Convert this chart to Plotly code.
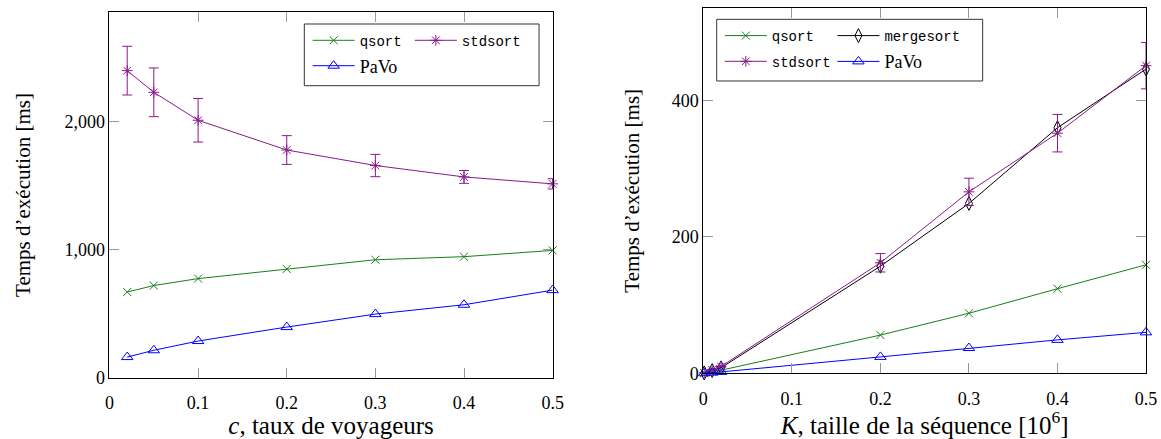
import plotly.graph_objects as go

# --- gauche : temps en fonction du taux de voyageurs c
c_vals = [0.02, 0.05, 0.1, 0.2, 0.3, 0.4, 0.5]
qsort_c = [668, 719, 773, 848, 920, 944, 993]
stdsort_c = [2395, 2226, 2008, 1776, 1655, 1566, 1512]
stdsort_c_err = [190, 190, 170, 112, 87, 50, 40]
pavo_c = [161, 214, 286, 395, 496, 569, 683]

# --- droite : temps en fonction de la taille K de la sequence
k_vals = [0.001, 0.01, 0.02, 0.2, 0.3, 0.4, 0.5]
qsort_k = [0.3, 2.5, 4.5, 56, 88, 124, 159]
mergesort_k = [0.5, 4, 8, 157, 249, 360, 446]
stdsort_k = [0.6, 5, 10, 162, 266, 352, 451]
stdsort_k_err = [0.1, 0.5, 1, 13.5, 20, 27.5, 34]
pavo_k = [0.1, 1, 2, 24, 37, 49, 60]

GREEN = "#1a7f1a"
PURPLE = "#8a1a8a"
BLUE = "#0000ff"
BLACK = "#000000"
SERIF = "Liberation Serif"
MONO = "Liberation Mono"

fig = go.Figure()


def add(x, y, name, color, symbol, size, xa, ya, leg, err=None):
    fig.add_trace(go.Scatter(
        x=x, y=y, name=name, mode="lines+markers", xaxis=xa, yaxis=ya,
        line=dict(color=color, width=1),
        marker=dict(symbol=symbol, size=size, color=color,
                    line=dict(color=color, width=1)),
        error_y=None if err is None else dict(type="data", array=err, visible=True,
                                              color=color, thickness=1, width=5),
        cliponaxis=False, legend=leg, showlegend=True))


add(c_vals, qsort_c, "qsort", GREEN, "x-thin-open", 8, "x", "y", "legend")
add(c_vals, stdsort_c, "stdsort", PURPLE, "asterisk-open", 9, "x", "y", "legend2", stdsort_c_err)
add(c_vals, pavo_c, "PaVo", BLUE, "triangle-up-open", 10, "x", "y", "legend3")

add(k_vals, qsort_k, "qsort", GREEN, "x-thin-open", 8, "x2", "y2", "legend4")
add(k_vals, mergesort_k, "mergesort", BLACK, "diamond-tall-open", 10, "x2", "y2", "legend5")
add(k_vals, stdsort_k, "stdsort", PURPLE, "asterisk-open", 9, "x2", "y2", "legend6", stdsort_k_err)
add(k_vals, pavo_k, "PaVo", BLUE, "triangle-up-open", 10, "x2", "y2", "legend7")

axis_common = dict(showline=True, linecolor="black", linewidth=1, mirror="allticks",
                   ticks="inside", ticklen=10, tickcolor="#9a9a9a", tickwidth=1,
                   showgrid=False, zeroline=False, automargin=False,
                   tickfont=dict(family=SERIF, size=18, color="black"))
xtitle_font = dict(family=SERIF, size=25, color="black")
ytitle_font = dict(family=SERIF, size=21, color="black")


def leg(x, y, mono=True):
    return dict(x=x, y=y, xanchor="left", yanchor="middle", bgcolor="rgba(0,0,0,0)",
                borderwidth=0, itemwidth=42, visible=True,
                font=dict(family=MONO if mono else SERIF, size=14 if mono else 18,
                          color="black"))


fig.update_layout(
    template="none",
    width=1161, height=439,
    margin=dict(l=0, r=0, t=0, b=0, autoexpand=False),
    paper_bgcolor="white", plot_bgcolor="white",
    showlegend=True,
    xaxis=dict(axis_common, domain=[0.0943, 0.476], range=[0, 0.5], dtick=0.1,
               anchor="y", ticklabelstandoff=9,
               title=dict(text="<i>c</i>, taux de voyageurs", standoff=2, font=xtitle_font)),
    yaxis=dict(axis_common, domain=[0.1396, 0.972], range=[0, 2850], dtick=1000,
               tickformat=",", anchor="x",
               title=dict(text="Temps d’exécution [ms]", standoff=28, font=ytitle_font)),
    xaxis2=dict(axis_common, domain=[0.6058, 0.9871], range=[0, 0.5], dtick=0.1,
                anchor="y2", ticklabelstandoff=9,
                title=dict(text="<i>K</i>, taille de la séquence [10<sup>6</sup>]",
                           standoff=0, font=xtitle_font)),
    yaxis2=dict(axis_common, domain=[0.1497, 0.981], range=[0, 535], dtick=200,
                anchor="x2",
                title=dict(text="Temps d’exécution [ms]", standoff=26, font=ytitle_font)),
    legend=leg(0.265, 1 - 40.7 / 439),
    legend2=leg(0.353, 1 - 40.7 / 439),
    legend3=leg(0.265, 1 - 66 / 439, mono=False),
    legend4=leg(0.620, 1 - 36 / 439),
    legend5=leg(0.717, 1 - 36 / 439),
    legend6=leg(0.620, 1 - 61.7 / 439),
    legend7=leg(0.717, 1 - 61.7 / 439, mono=False),
    shapes=[
        dict(type="rect", xref="paper", yref="paper", x0=0.2621, x1=0.4643,
             y0=0.8048, y1=0.9453, line=dict(color="#333333", width=1)),
        dict(type="rect", xref="paper", yref="paper", x0=0.6173, x1=0.8464,
             y0=0.8155, y1=0.956, line=dict(color="#333333", width=1)),
    ],
)

# the page's default body margin would shift the figure by 8px
fig.write_html("out.html", config={"displayModeBar": False},
               post_script="document.body.style.margin = '0';")
